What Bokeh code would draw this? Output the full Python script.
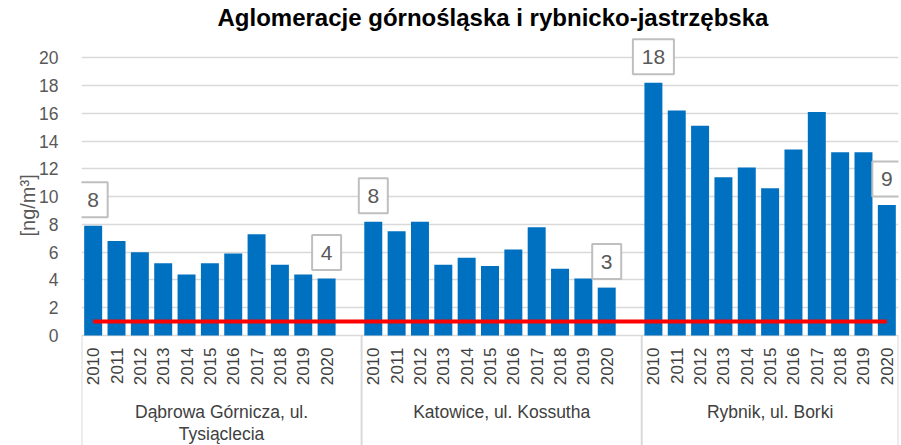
import math
from bokeh.plotting import figure
from bokeh.models import ColumnDataSource, FixedTicker, Range1d, Title
from bokeh.core.properties import value
from bokeh.embed import file_html
from bokeh.resources import INLINE

# ---------------- data ----------------
chart_title = "Aglomeracje górnośląska i rybnicko-jastrzębska"
y_label = "[ng/m³]"
years = ["2010", "2011", "2012", "2013", "2014", "2015",
         "2016", "2017", "2018", "2019", "2020"]
stations_line1 = ["Dąbrowa Górnicza, ul.", "Katowice, ul. Kossutha", "Rybnik, ul. Borki"]
stations_line2 = ["Tysiąclecia", "", ""]
dabrowa = [7.9, 6.8, 6.0, 5.2, 4.4, 5.2, 5.9, 7.3, 5.1, 4.4, 4.1]
katowice = [8.2, 7.5, 8.2, 5.1, 5.6, 5.0, 6.2, 7.8, 4.8, 4.1, 3.45]
rybnik = [18.2, 16.2, 15.1, 11.4, 12.1, 10.6, 13.4, 16.1, 13.2, 13.2, 9.4]
target_value = 1.0
y_ticks = [0, 2, 4, 6, 8, 10, 12, 14, 16, 18, 20]

series = [dabrowa, katowice, rybnik]

# ---------------- geometry (pixels) ----------------
W, H = 901, 445
TOP = 32          # title band
ZERO_PX = 335     # pixel row of value 0
TWENTY_PX = 57.3  # pixel row of value 20
px_per_unit = (ZERO_PX - TWENTY_PX) / 20.0
y_end = 20 + (TWENTY_PX - TOP) / px_per_unit
y_start = -(H - ZERO_PX) / px_per_unit


def below(px):
    """data y of a row `px` pixels below the value axis"""
    return -px / px_per_unit


# ---------------- category layout ----------------
slot_block = len(years) + 1
xs, tops, year_txt = [], [], []
for g, vals in enumerate(series):
    for i, v in enumerate(vals):
        xs.append(g * slot_block + i)
        tops.append(v)
        year_txt.append(years[i])
x_start = -0.5
x_end = xs[-1] + 0.5
boundaries = [x_start] + [g * slot_block - 0.5 for g in range(1, len(series))] + [x_end]
group_centers = [(boundaries[g] + boundaries[g + 1]) / 2 for g in range(len(series))]

bars = ColumnDataSource(dict(x=xs, top=tops))
year_src = ColumnDataSource(dict(x=xs, y=[below(12)] * len(xs), t=year_txt))
st1 = ColumnDataSource(dict(x=group_centers, y=[below(76.7)] * 3, t=stations_line1))
st2 = ColumnDataSource(dict(x=group_centers, y=[below(98)] * 3, t=stations_line2))
sep = ColumnDataSource(dict(x=boundaries, y0=[0] * len(boundaries),
                            y1=[y_start] * len(boundaries)))

# data labels (first and last year of each station)
lx, ly, lt, lw = [], [], [], []
for g, vals in enumerate(series):
    for i in (0, len(vals) - 1):
        t = str(int(round(vals[i])))
        lx.append(g * slot_block + i)
        ly.append(vals[i] + 26 / px_per_unit)
        lt.append(t)
        lw.append(17 + 12 * len(t))
labels = ColumnDataSource(dict(x=lx, y=ly, t=lt, w=lw))

FONT = "Liberation Sans"

p = figure(width=W, height=H, output_backend="svg", toolbar_location=None,
           x_range=Range1d(x_start, x_end), y_range=Range1d(y_start, y_end),
           min_border_left=81, min_border_right=3, min_border_bottom=0,
           min_border_top=TOP)
p.outline_line_color = None
p.background_fill_color = "white"
p.border_fill_color = "white"

# title
p.title.text = chart_title
p.title.align = "left"
p.title.offset = 136
p.title.text_font = FONT
p.title.text_font_size = "24px"
p.title.text_font_style = "bold"
p.title.text_color = "#000000"
p.title.standoff = 3

# grid
p.ygrid.ticker = FixedTicker(ticks=y_ticks)
p.ygrid.grid_line_color = "#D9D9D9"
p.ygrid.grid_line_width = 1.3
p.xgrid.visible = False

# bars
p.vbar(x="x", top="top", width=0.77, source=bars, color="#0070C0", line_color=None)

# target line
p.line(x=[xs[0], xs[-1]], y=[target_value, target_value], line_color="#FF0000",
       line_width=4)

# label boxes
p.rect(x="x", y="y", width="w", height=35, width_units="screen", height_units="screen",
       source=labels, fill_color="white", line_color="#BFBFBF", line_width=2)
p.text(x="x", y="y", text="t", source=labels, text_align="center",
       text_baseline="middle", text_font=value(FONT), text_font_size="21px",
       text_color="#595959")

# category area: separators, years, station names
p.segment(x0="x", y0="y0", x1="x", y1="y1", source=sep, line_color="#D9D9D9",
          line_width=2)
p.text(x="x", y="y", text="t", source=year_src, angle=math.pi / 2,
       text_align="right", text_baseline="middle", text_font=value(FONT),
       text_font_size="17px", text_color="#404040")
for src in (st1, st2):
    p.text(x="x", y="y", text="t", source=src, text_align="center",
           text_baseline="middle", text_font=value(FONT), text_font_size="17.5px",
           text_color="#404040")

# axes
p.xaxis.visible = False
ya = p.yaxis[0]
ya.ticker = FixedTicker(ticks=y_ticks)
ya.axis_line_color = None
ya.major_tick_line_color = None
ya.minor_tick_line_color = None
ya.major_label_standoff = 17
ya.major_label_text_font = FONT
ya.major_label_text_font_size = "17.5px"
ya.major_label_text_color = "#595959"

# y axis title (left side, reading bottom to top)
p.add_layout(Title(text=y_label, align="left", offset=209, standoff=-4,
                   text_font=FONT, text_font_size="20px", text_font_style="normal",
                   text_color="#595959"), "left")

open("out.html", "w").write(file_html(p, INLINE))
